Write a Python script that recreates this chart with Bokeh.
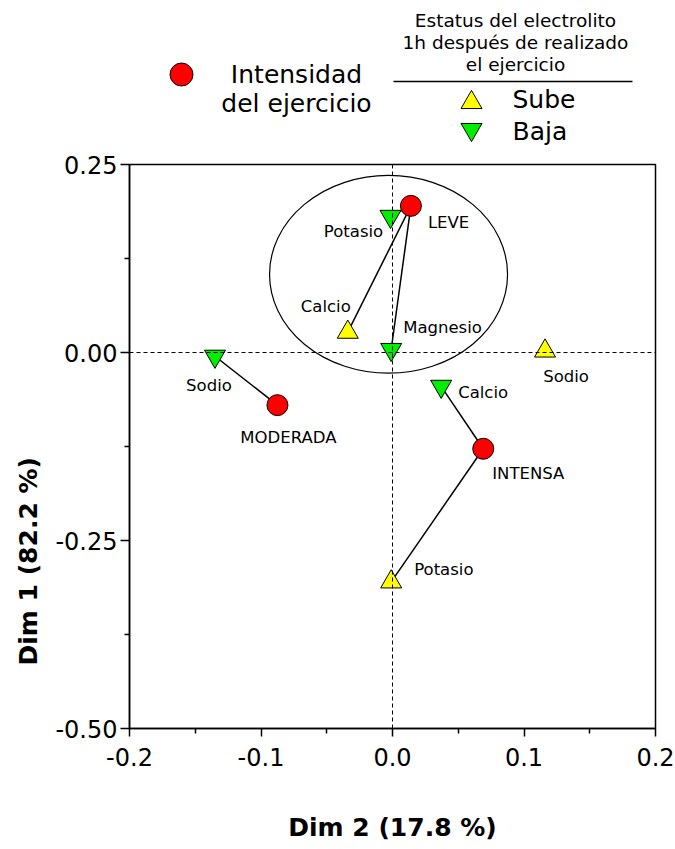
import math
from bokeh.plotting import figure
from bokeh.layouts import column
from bokeh.models import Range1d, FixedTicker, Span, Title, ColumnDataSource
from bokeh.core.properties import value
from bokeh.embed import file_html
from bokeh.resources import INLINE

# ---------------- data ----------------
int_names = ["LEVE", "MODERADA", "INTENSA"]
int_x = [0.014, -0.0875, 0.069]
int_y = [0.195, -0.070, -0.128]

sube_names = ["Calcio", "Sodio", "Potasio"]
sube_x = [-0.034, 0.116, -0.001]
sube_y = [0.027, 0.002, -0.305]

baja_names = ["Potasio", "Magnesio", "Sodio", "Calcio"]
baja_x = [-0.0015, -0.001, -0.135, 0.037]
baja_y = [0.181, 0.004, -0.005, -0.045]

links = [("LEVE", "Baja", "Potasio"), ("LEVE", "Sube", "Calcio"),
         ("LEVE", "Baja", "Magnesio"), ("MODERADA", "Baja", "Sodio"),
         ("INTENSA", "Baja", "Calcio"), ("INTENSA", "Sube", "Potasio")]

ellipse_center = (-0.003, 0.104)
ellipse_size = (0.181, 0.263)

x_ticks = [-0.2, -0.1, 0.0, 0.1, 0.2]
x_tick_labels = ["-0.2", "-0.1", "0.0", "0.1", "0.2"]
x_minor = [-0.15, -0.05, 0.05, 0.15]
y_ticks = [-0.5, -0.25, 0.0, 0.25]
y_tick_labels = ["-0.50", "-0.25", "0.00", "0.25"]
y_minor = [-0.375, -0.125, 0.125]

x_title = "Dim 2 (17.8 %)"
y_title = "Dim 1 (82.2 %)"

# ---------------- styles ----------------
FONT = "DejaVu Sans"
RED = "#ff0000"
YEL = "#ffff00"
GRN = "#00ee00"
W = 675
LB, RB = 129, 20          # left / right borders -> frame spans x 129..655
LEG_H = 150               # legend strip height

# ---------------- legend figure (coordinates = page pixels) ----------------
leg = figure(width=W, height=LEG_H, x_range=Range1d(LB, W - RB), y_range=Range1d(0, LEG_H),
             min_border_left=LB, min_border_right=RB, min_border_top=0, min_border_bottom=0,
             toolbar_location=None, output_backend="svg",
             x_axis_location=None, y_axis_location=None, outline_line_color=None)
leg.grid.visible = False

def ly(page_y):
    return LEG_H - page_y

leg.scatter([181], [ly(74)], marker="circle", size=23, fill_color=RED, line_color="black", line_width=1)
leg.text([296, 296], [ly(74), ly(103)], text=["Intensidad", "del ejercicio"], text_align="center",
         text_baseline="middle", text_font=value(FONT), text_font_size=value("25px"), text_color="black")
leg.text([515, 515, 515], [ly(20), ly(41.5), ly(64)],
         text=["Estatus del electrolito", "1h después de realizado", "el ejercicio"],
         text_align="center", text_baseline="middle",
         text_font=value(FONT), text_font_size=value("18.5px"), text_color="black")
leg.line([393, 632], [ly(81), ly(81)], line_color="black", line_width=1.5)
leg.scatter([471], [ly(102)], marker="triangle", size=21, fill_color=YEL, line_color="black", line_width=1)
leg.scatter([471], [ly(129)], marker="inverted_triangle", size=21, fill_color=GRN, line_color="black", line_width=1)
leg.text([512, 512], [ly(99), ly(131)], text=["Sube", "Baja"], text_align="left", text_baseline="middle",
         text_font=value(FONT), text_font_size=value("25px"), text_color="black")

# ---------------- main figure ----------------
TOP = 164 - LEG_H
H = 849 - LEG_H - 4
p = figure(width=W, height=H, x_range=Range1d(-0.2, 0.2), y_range=Range1d(-0.5, 0.25),
           min_border_left=LB, min_border_right=RB, min_border_top=TOP,
           min_border_bottom=H - TOP - 564,
           toolbar_location=None, output_backend="svg",
           outline_line_color="black", outline_line_width=1.5)
p.grid.visible = False

for ax in (p.xaxis[0], p.yaxis[0]):
    ax.axis_line_width = 1.5
    ax.major_tick_line_width = 1.5
    ax.minor_tick_line_width = 1.5
    ax.major_tick_in = 0
    ax.minor_tick_in = 0
    ax.major_label_text_font = FONT
    ax.major_label_text_font_size = "24px"
    ax.major_label_text_color = "black"

p.xaxis.ticker = FixedTicker(ticks=x_ticks, minor_ticks=x_minor)
p.xaxis.major_label_overrides = dict(zip(x_ticks, x_tick_labels))
p.xaxis.major_tick_out = 8
p.xaxis.minor_tick_out = 5
p.xaxis.major_label_standoff = 11
p.xaxis.axis_label = x_title
p.xaxis.axis_label_text_font = FONT
p.xaxis.axis_label_text_font_size = "25px"
p.xaxis.axis_label_text_font_style = "bold"
p.xaxis.axis_label_text_color = "black"
p.xaxis.axis_label_standoff = 44

p.yaxis.ticker = FixedTicker(ticks=y_ticks, minor_ticks=y_minor)
p.yaxis.major_label_overrides = dict(zip(y_ticks, y_tick_labels))
p.yaxis.major_tick_out = 9
p.yaxis.minor_tick_out = 5
p.yaxis.major_label_standoff = 3

# y axis title: a left-side title placed lower than the centre, as in the reference
p.add_layout(Title(text=y_title, align="left", offset=63, text_font=FONT, text_font_size="25px",
                   text_font_style="bold", text_color="black", standoff=20), "left")

# zero reference lines
p.add_layout(Span(location=0, dimension="width", line_color="black", line_width=1, line_dash="4 3"))
p.add_layout(Span(location=0, dimension="height", line_color="black", line_width=1, line_dash="4 3"))

# ellipse
p.ellipse(x=[ellipse_center[0]], y=[ellipse_center[1]], width=[ellipse_size[0]], height=[ellipse_size[1]],
          fill_color=None, line_color="black", line_width=1.2)

# connecting lines
ipos = {n: (x, y) for n, x, y in zip(int_names, int_x, int_y)}
spos = {n: (x, y) for n, x, y in zip(sube_names, sube_x, sube_y)}
bpos = {n: (x, y) for n, x, y in zip(baja_names, baja_x, baja_y)}
xs, ys = [], []
for iname, status, ename in links:
    a = ipos[iname]
    b = (spos if status == "Sube" else bpos)[ename]
    xs.append([a[0], b[0]])
    ys.append([a[1], b[1]])
p.multi_line(xs, ys, line_color="black", line_width=1.5)

# markers
p.scatter(sube_x, sube_y, marker="triangle", size=21, fill_color=YEL, line_color="black", line_width=1)
p.scatter(baja_x, baja_y, marker="inverted_triangle", size=21, fill_color=GRN, line_color="black", line_width=1)
p.scatter(int_x, int_y, marker="circle", size=21, fill_color=RED, line_color="black", line_width=1)

# point labels (offsets in screen px)
lab_center = dict(x=[], y=[], t=[], dx=[], dy=[])
lab_left = dict(x=[], y=[], t=[], dx=[], dy=[])
def add(d, x, y, t, dx, dy):
    d["x"].append(x); d["y"].append(y); d["t"].append(t); d["dx"].append(dx); d["dy"].append(dy)

off_int = {"LEVE": ("L", 17, 17), "MODERADA": ("C", 11, 32), "INTENSA": ("C", 45, 25)}
off_sube = {"Calcio": ("C", -22, -26), "Sodio": ("C", 21, 26), "Potasio": ("L", 23, -12)}
off_baja = {"Potasio": ("C", -37, 15), "Magnesio": ("L", 12, -22), "Sodio": ("C", -6, 29), "Calcio": ("L", 17, 6)}
for names, X, Y, offs in ((int_names, int_x, int_y, off_int), (sube_names, sube_x, sube_y, off_sube),
                          (baja_names, baja_x, baja_y, off_baja)):
    for n, x, y in zip(names, X, Y):
        kind, dx, dy = offs[n]
        add(lab_center if kind == "C" else lab_left, x, y, n, dx, dy)

for d, align in ((lab_center, "center"), (lab_left, "left")):
    src = ColumnDataSource(d)
    p.text(x="x", y="y", text="t", x_offset="dx", y_offset="dy", source=src,
           text_align=align, text_baseline="middle", text_font=value(FONT),
           text_font_size=value("16.5px"), text_color="black")

layout = column(leg, p)
open("out.html", "w").write(file_html(layout, INLINE))
